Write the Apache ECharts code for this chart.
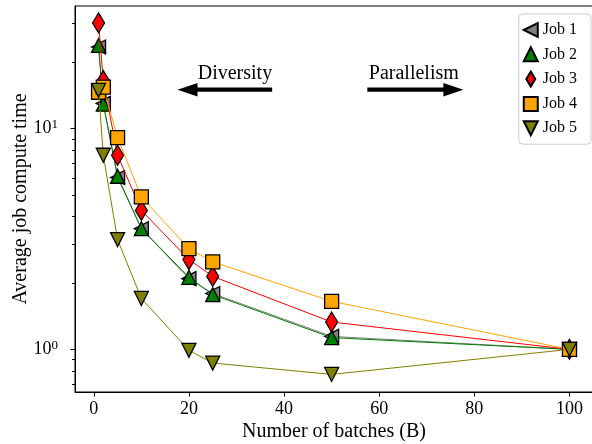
<!DOCTYPE html>
<html><head><meta charset="utf-8">
<script src="https://cdn.jsdelivr.net/npm/echarts@6/dist/echarts.min.js"></script>
<style>html,body{margin:0;padding:0;background:#fff}#c{width:592px;height:444px}</style>
</head><body><div id="c"></div>
<script>
// ---- data ----
const batches = [1, 2, 5, 10, 20, 25, 50, 100];
const job1 = [23.4, 13.0, 6.0, 3.52, 2.09, 1.79, 1.145, 1.0];
const job2 = [23.8, 12.9, 6.08, 3.52, 2.12, 1.77, 1.13, 1.0];
const job3 = [30.1, 16.5, 7.57, 4.26, 2.55, 2.14, 1.33, 1.0];
const job4 = [14.6, 15.4, 9.1, 4.9, 2.86, 2.49, 1.65, 1.0];
const job5 = [14.9, 7.57, 3.14, 1.70, 0.99, 0.867, 0.77, 1.0];
const seriesNames = ['Job 1', 'Job 2', 'Job 3', 'Job 4', 'Job 5'];
const xTicks = [0, 20, 40, 60, 80, 100];
const yTicks = [1, 10];
const yTickExponents = ['0', '1'];
const yMinorTicks = [0.7, 0.8, 0.9, 2, 3, 4, 5, 6, 7, 8, 9, 20, 30];
const xTitle = 'Number of batches (B)';
const yTitle = 'Average job compute time';
const arrowTexts = ['Diversity', 'Parallelism'];
const arrowTail = [37.5, 57.5];
const arrowTip = [17.6, 77.7];
const arrowY = [15, 15];
const xRange = [-3.95, 104.95];
const yRange = [0.641, 35.9];

// ---- build ----
const FONT = '"Liberation Serif", "Times New Roman", serif';
const allJobs = [job1, job2, job3, job4, job5];
const colors = ['#808080', '#008000', '#ff0000', '#ffa500', '#808000'];
const symbols = [
  'path://M0,5L10,0L10,10Z',
  'path://M5,0L10,10L0,10Z',
  'path://M3,0L6,5L3,10L0,5Z',
  'path://M0,0L10,0L10,10L0,10Z',
  'path://M0,0L10,0L5,10Z'
];
const symSizes = [[14, 14], [14, 14], [12, 20], [14, 14], [14, 14]];

const lineSeries = allJobs.map((vals, i) => ({
  name: seriesNames[i],
  type: 'line',
  z: 3 + i,
  data: batches.map((b, j) => [b, vals[j]]),
  symbol: symbols[i],
  symbolSize: symSizes[i],
  showAllSymbol: true,
  lineStyle: { color: colors[i], width: 1 },
  itemStyle: { color: colors[i], borderColor: '#000', borderWidth: 1.3 },
  emphasis: { disabled: true },
  animation: false
}));

const arrowSeries = {
  type: 'custom',
  coordinateSystem: 'cartesian2d',
  z: 20,
  silent: true,
  animation: false,
  data: arrowTexts.map((t, i) => [arrowTail[i], arrowTip[i], arrowY[i], i]),
  renderItem: function (params, api) {
    const tail = api.coord([api.value(0), api.value(2)]);
    const tip = api.coord([api.value(1), api.value(2)]);
    const dir = tip[0] > tail[0] ? 1 : -1;
    const hl = 20, hw = 6.7, sw = 2.1;
    const bx = tip[0] - dir * hl;
    const y = tip[1];
    const idx = api.value(3);
    return {
      type: 'group',
      children: [
        { type: 'polygon',
          shape: { points: [[tail[0], y - sw], [bx, y - sw], [bx, y - hw], [tip[0], y], [bx, y + hw], [bx, y + sw], [tail[0], y + sw]] },
          style: { fill: '#000' } },
        { type: 'text',
          style: { text: arrowTexts[idx], x: tail[0] + (dir < 0 ? 0 : 1.5), y: y - 16,
                   align: dir < 0 ? 'right' : 'left', verticalAlign: 'middle',
                   font: '20px ' + FONT, fill: '#000' } }
      ]
    };
  }
};

// minor log ticks on the left spine, placed through the y scale
const minorTickSeries = {
  type: 'custom',
  coordinateSystem: 'cartesian2d',
  z: 1,
  silent: true,
  animation: false,
  clip: false,
  data: yMinorTicks.map(v => [xRange[0], v]),
  renderItem: function (params, api) {
    const p = api.coord([api.value(0), api.value(1)]);
    const x0 = Math.round(p[0]);
    const y0 = Math.round(p[1]) + 0.5;
    return { type: 'line', shape: { x1: x0, y1: y0, x2: x0 - 3, y2: y0 },
             style: { stroke: '#000', lineWidth: 1 } };
  }
};

const chart = echarts.init(document.getElementById('c'), null, { renderer: 'canvas' });
chart.setOption({
  backgroundColor: '#fff',
  animation: false,
  grid: { left: 75, right: -1, top: 6, bottom: 52, show: true, borderColor: '#000', borderWidth: 1,
          containLabel: false, outerBoundsMode: 'none' },
  xAxis: {
    type: 'value', min: xRange[0], max: xRange[1],
    axisLine: { show: true, onZero: false, lineStyle: { color: '#000', width: 1 } },
    axisTick: { show: true, customValues: xTicks, length: 4.5, lineStyle: { color: '#000', width: 1 } },
    axisLabel: { customValues: xTicks, fontFamily: FONT, fontSize: 18, color: '#000', margin: 8 },
    splitLine: { show: false },
    name: xTitle, nameLocation: 'middle', nameGap: 30, nameMoveOverlap: false,
    nameTextStyle: { fontFamily: FONT, fontSize: 20, color: '#000' }
  },
  yAxis: {
    type: 'log', logBase: 10, min: yRange[0], max: yRange[1], position: 'left',
    axisLine: { show: true, onZero: false, lineStyle: { color: '#000', width: 1 } },
    axisTick: { show: true, customValues: yTicks, length: 4.5, lineStyle: { color: '#000', width: 1 } },
    axisLabel: {
      customValues: yTicks, margin: 17,
      formatter: function (v) {
        let k = 0;
        for (let i = 0; i < yTicks.length; i++) if (Math.abs(yTicks[i] - v) < 1e-9 * yTicks[i]) k = i;
        return '{b|10}{sup|' + yTickExponents[k] + '}';
      },
      rich: {
        b: { fontFamily: FONT, fontSize: 18, color: '#000', lineHeight: 20 },
        sup: { fontFamily: FONT, fontSize: 13, color: '#000', verticalAlign: 'top', lineHeight: 13 }
      }
    },
    splitLine: { show: false },
    name: yTitle, nameLocation: 'middle', nameGap: 44, nameMoveOverlap: false,
    nameTextStyle: { fontFamily: FONT, fontSize: 20, color: '#000' }
  },
  legend: {
    orient: 'vertical', right: 1, top: 14,
    padding: [8, 14, 8, 4],
    itemWidth: 14, itemHeight: 15, itemGap: 8.3,
    borderColor: '#cccccc', borderWidth: 1, borderRadius: 4,
    backgroundColor: 'rgba(255,255,255,0.8)',
    textStyle: { fontFamily: FONT, fontSize: 16, color: '#000' },
    selectedMode: false,
    data: seriesNames.map((n, i) => ({ name: n, icon: symbols[i] }))
  },
  series: lineSeries.concat([minorTickSeries, arrowSeries])
});
</script></body></html>
